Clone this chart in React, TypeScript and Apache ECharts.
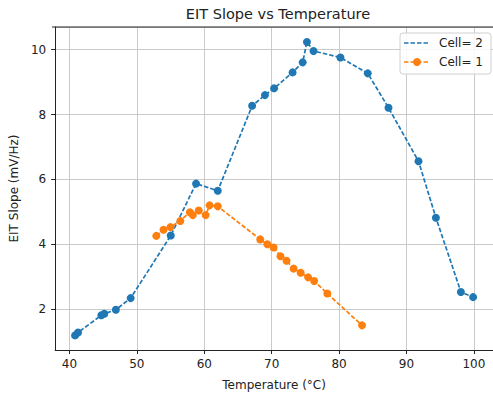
import React, { useEffect, useRef } from "react";
import * as echarts from "echarts";

const cell2Temp = [40.83, 41.27, 44.73, 45.17, 46.88, 49.08, 55.03, 58.78, 62.0, 67.1, 69.0, 70.36, 73.1, 74.6, 75.23, 76.2, 80.2, 84.25, 87.33, 91.78, 94.36, 98.07, 99.88];
const cell2Slope = [1.19, 1.28, 1.81, 1.86, 1.98, 2.34, 4.27, 5.87, 5.65, 8.27, 8.6, 8.81, 9.3, 9.61, 10.24, 9.96, 9.76, 9.27, 8.21, 6.56, 4.82, 2.53, 2.37];

const cell1Temp = [52.88, 53.95, 54.98, 56.44, 57.86, 58.3, 59.18, 60.2, 60.79, 62.0, 68.3, 69.35, 70.28, 71.3, 72.2, 73.25, 74.3, 75.4, 76.3, 78.25, 83.4];
const cell1Slope = [4.26, 4.45, 4.53, 4.72, 4.99, 4.9, 5.04, 4.9, 5.2, 5.17, 4.15, 4.0, 3.9, 3.63, 3.49, 3.25, 3.12, 2.98, 2.87, 2.48, 1.5];

const seriesNames = ["Cell= 2", "Cell= 1"];
const colors = ["#1f77b4", "#ff7f0e"];

const FONT = "DejaVu Sans";
const FS = 12;

export default function App() {
  const ref = useRef<HTMLDivElement>(null);
  useEffect(() => {
    if (!ref.current) return;
    const chart = echarts.init(ref.current, undefined, { renderer: "svg" });
    const toPairs = (xs: number[], ys: number[]) => xs.map((x, i) => [x, ys[i]]);
    const lineType = [4.5, 2];
    chart.setOption({
      animation: false,
      backgroundColor: "#ffffff",
      textStyle: { fontFamily: FONT },
      title: {
        text: "EIT Slope vs Temperature",
        left: 273,
        top: 1,
        textAlign: "center",
        textStyle: { fontFamily: FONT, fontSize: 14.5, fontWeight: "normal", color: "#222" },
      },
      grid: { left: 52, top: 27, width: 444, height: 330, containLabel: false },
      xAxis: {
        type: "value",
        min: 37.88,
        max: 102.83,
        splitNumber: 5,
        name: "Temperature (°C)",
        nameLocation: "middle",
        nameGap: 29,
        nameTextStyle: { fontFamily: FONT, fontSize: FS, color: "#222" },
        axisLine: { show: true, onZero: false, lineStyle: { color: "#222", width: 1 } },
        axisTick: { show: true, inside: false, length: 4, lineStyle: { color: "#222" } },
        axisLabel: { fontFamily: FONT, fontSize: FS, color: "#222", margin: 8, showMinLabel: false, showMaxLabel: false },
        splitLine: { show: true, lineStyle: { color: "#c4c4c4", width: 0.9 } },
      },
      yAxis: {
        type: "value",
        min: 0.74,
        max: 10.7,
        splitNumber: 5,
        name: "EIT Slope (mV/Hz)",
        nameLocation: "middle",
        nameGap: 33,
        nameTextStyle: { fontFamily: FONT, fontSize: FS, color: "#222" },
        axisLine: { show: true, onZero: false, lineStyle: { color: "#222", width: 1 } },
        axisTick: { show: true, inside: false, length: 4, lineStyle: { color: "#222" } },
        axisLabel: { fontFamily: FONT, fontSize: FS, color: "#222", margin: 9, showMinLabel: false, showMaxLabel: false },
        splitLine: { show: true, lineStyle: { color: "#c4c4c4", width: 0.9 } },
      },
      series: [
        {
          name: seriesNames[0],
          type: "line",
          data: toPairs(cell2Temp, cell2Slope),
          symbol: "circle",
          symbolSize: 8,
          showAllSymbol: true,
          itemStyle: { color: colors[0] },
          lineStyle: { color: colors[0], width: 1.7, type: lineType },
          z: 3,
        },
        {
          name: seriesNames[1],
          type: "line",
          data: toPairs(cell1Temp, cell1Slope),
          symbol: "circle",
          symbolSize: 8,
          showAllSymbol: true,
          itemStyle: { color: colors[1] },
          lineStyle: { color: colors[1], width: 1.7, type: lineType },
          z: 4,
        },
      ],
      graphic: [
        {
          type: "line",
          shape: { x1: 52, y1: 27, x2: 496, y2: 27 },
          style: { stroke: "#222", lineWidth: 1 },
          z: 50,
        },
        {
          type: "rect",
          shape: { x: 400, y: 33, width: 91, height: 41, r: 3 },
          style: { fill: "rgba(255,255,255,0.85)", stroke: "#d0d0d0", lineWidth: 1 },
          z: 100,
        },
        {
          type: "line",
          shape: { x1: 404, y1: 43, x2: 430, y2: 43 },
          style: { stroke: colors[0], lineWidth: 1.7, lineDash: lineType },
          z: 101,
        },
        {
          type: "text",
          x: 439,
          y: 43,
          style: { text: seriesNames[0], fontFamily: FONT, fontSize: FS, fill: "#222", textVerticalAlign: "middle", verticalAlign: "middle" },
          z: 101,
        },
        {
          type: "line",
          shape: { x1: 404, y1: 62, x2: 430, y2: 62 },
          style: { stroke: colors[1], lineWidth: 1.7, lineDash: lineType },
          z: 101,
        },
        {
          type: "circle",
          shape: { cx: 417, cy: 62, r: 4 },
          style: { fill: colors[1] },
          z: 102,
        },
        {
          type: "text",
          x: 439,
          y: 62,
          style: { text: seriesNames[1], fontFamily: FONT, fontSize: FS, fill: "#222", textVerticalAlign: "middle", verticalAlign: "middle" },
          z: 101,
        },
      ],
    });
    return () => chart.dispose();
  }, []);
  return (
    <div
      ref={ref}
      style={{ position: "fixed", left: 0, top: 0, width: 493, height: 396, overflow: "hidden" }}
    />
  );
}
